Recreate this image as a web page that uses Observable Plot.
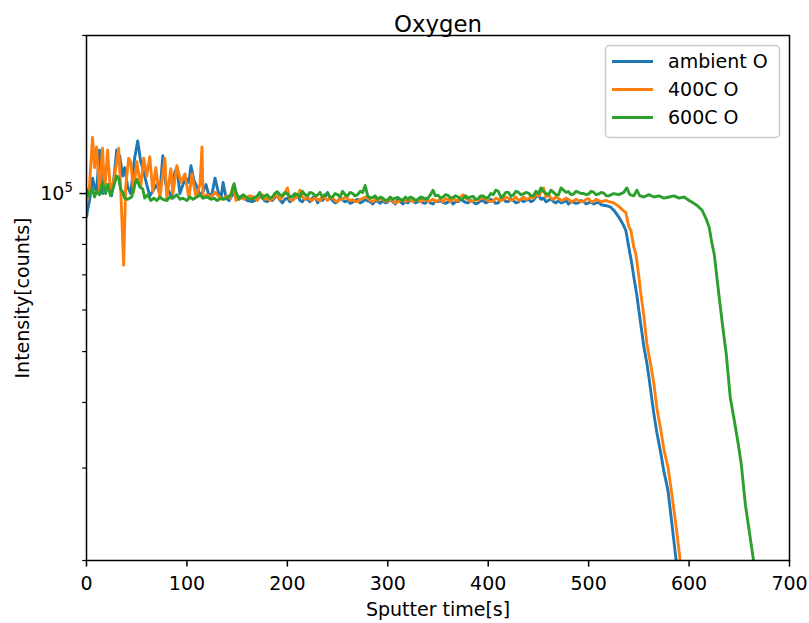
<!DOCTYPE html>
<html>
<head>
<meta charset="utf-8">
<script src="https://cdn.jsdelivr.net/npm/d3@7"></script>
<script src="https://cdn.jsdelivr.net/npm/@observablehq/plot@0.6"></script>
<style>
  html, body { margin: 0; padding: 0; background: white; }
  #chart { position: relative; width: 809px; height: 623px; }
</style>
</head>
<body>
<div id="chart"></div>
<script>
// ---- data ----
const title = "Oxygen";
const xLabel = "Sputter time[s]";
const yLabel = "Intensity[counts]";
const seriesNames = ["ambient O", "400C O", "600C O"];
const seriesColors = ["#1f77b4", "#ff7f0e", "#2ca02c"];
const xTicks = [0, 100, 200, 300, 400, 500, 600, 700];
const yMajorTicks = [1e5];
const yMajorBase = ["10"];
const yMajorExp = ["5"];
const yMinorTicks = [2e4, 3e4, 4e4, 5e4, 6e4, 7e4, 8e4, 9e4, 2e5];

// sampling times of the flat middle section (shared by the three series)
const plateauT = [170,172.5,175,177.5,180,182.5,185,187.5,190,192.5,
195,197.5,200,202.5,205,207.5,210,212.5,215,217.5,
220,222.5,225,227.5,230,232.5,235,237.5,240,242.5,
245,247.5,250,252.5,255,257.5,260,262.5,265,267.5,
270,272.5,275,277.5,280,282.5,285,287.5,290,292.5,
295,297.5,300,302.5,305,307.5,310,312.5,315,317.5,
320,322.5,325,327.5,330,332.5,335,337.5,340,342.5,
345,347.5,350,352.5,355,357.5,360,362.5,365,367.5,
370,372.5,375,377.5,380,382.5,385,387.5,390,392.5,
395,397.5,400,402.5,405,407.5,410,412.5,415,417.5,
420,422.5,425,427.5,430,432.5,435,437.5,440,442.5,
445,447.5,450,452.5,455,457.5,460,462.5,465,467.5,
470,472.5,475,477.5,480,482.5,485,487.5,490,492.5,
495,497.5,500,502.5,505,507.5,510,512.5,515,517.5,520];

// ambient O
const ambientEarlyT = [0,1,3,6,8,10,13,15,16,19,22,25,28,30,33,36,38,41,44,48,51,54,57,60,63,66,70,73,76,79,82,85,88,90,93,96,99,102,104,107,110,113,116,119,122,125,128,131,134,136,139,142,146,150,155,160,165];
const ambientEarlyV = [90000,93000,97000,107000,103000,101000,121000,108000,100000,101000,104000,99000,110000,121000,118000,108000,112000,103000,100000,117000,126000,115000,110000,104000,99000,101000,104000,100000,118000,104000,101000,98000,110000,112000,100000,104000,107000,105000,113000,106000,103000,99000,101000,104000,99000,100000,107000,101000,98000,105000,98000,97000,100000,98000,99000,97000,96500];
const ambientPlateauV = [97500,98800,98500,96800,96500,97800,97000,98200,99000,97200,
96000,97500,98000,96500,97000,98500,99500,97000,96500,98000,
97500,96500,98000,99000,96000,97500,97000,98500,100500,98000,
97000,96000,96500,98000,97200,96500,97000,95800,96300,97000,
97500,96000,96500,97500,96800,96500,95500,97000,96500,95800,
97000,96000,96300,97500,96500,95500,97500,96500,95500,96500,
96000,97200,97000,96000,96500,97500,96000,95800,97000,96000,
95500,96800,96500,97000,96200,95800,96300,97000,95500,96500,
96500,97500,96800,96200,96000,97000,96500,95500,96000,96800,
97000,96000,96500,97500,96800,95800,96000,97500,98000,96500,
96500,97800,97000,96000,96300,97500,96500,97000,97500,96500,
97000,98500,99500,97500,98000,96500,97000,97800,96500,96000,
97000,96000,96300,97000,95500,96500,96200,95800,96000,97000,
96500,95500,96000,96500,95500,96000,96200,95200,95000,94800,94500];
const ambientLateT = [522,526,530,534,537,540,543,545,548,550,553,555,558,560,563,565,568,572,575,579,583,587,589];
const ambientLateV = [94200,92500,90200,87500,85100,79000,73500,69300,64000,59900,54500,51000,47500,44700,40500,38000,35000,31900,29500,27200,23400,20100,18800];

// 400C O
const c400EarlyT = [0,3,6,8,10,13,16,18,21,24,28,32,34,37,39,42,44,47,50,54,57,60,63,66,69,73,78,80,84,86,90,94,98,102,105,109,113,115,116,120,124,128,131,135,140,143,146,149,153,157,162,166];
const c400EarlyV = [96000,103600,128000,112000,122700,101000,122000,100700,121000,100000,108000,122000,103000,73000,103000,116700,115000,100500,115000,103000,116700,108000,117500,101000,112000,98000,116700,98000,111500,100000,113000,105000,109000,98000,109000,98500,104000,122700,98000,99500,98500,100500,99000,97500,99000,98000,103600,97000,98500,97500,99000,98500];
const c400PlateauV = [97000,98500,99500,97500,98000,97000,97500,98800,99000,97500,
98500,100000,102500,97500,97000,98000,98300,101500,98500,97500,
98500,97500,97000,98500,97500,96800,99000,98000,97000,98500,
98000,97000,96500,98000,97500,98500,97800,97000,97300,96500,
96500,97500,97800,98500,98000,97000,96500,97500,97000,97800,
97500,96500,96800,97500,97000,96000,96400,97000,97500,96500,
97000,97800,96500,97000,97500,96500,97000,98000,96500,97000,
97500,96500,97000,97500,96500,97800,97500,96500,98000,97000,
97000,98500,99500,98000,97500,96500,96800,97500,97000,98000,
98000,97500,97000,96500,96800,98000,97500,97000,97300,98500,
98000,97000,97500,98500,97000,97500,98500,97500,97800,98500,
98000,99500,99000,100500,102500,98500,99500,98000,97500,98500,
98000,97000,97300,98000,97500,96500,96800,97500,97000,96500,
96500,97500,97800,96500,96500,97500,97000,96500,96800,97000,96500];
const c400LateT = [525,530,534,537,540,542,545,547,550,552,555,558,562,565,568,572,575,579,582,585,588,591,593];
const c400LateV = [96000,94500,93000,92000,86500,85100,79000,76800,69500,64400,58500,51700,47000,43400,39000,35300,32500,30100,27500,24900,22500,20100,18800];

// 600C O
const c600EarlyT = [0,2,4,6,8,10,13,16,19,21,24,27,30,32,34,36,38,41,45,48,50,53,56,58,61,64,67,70,73,76,80,83,86,90,93,96,100,103,106,110,113,116,120,124,127,130,134,137,141,144,147,149,152,156,160,165];
const c600EarlyV = [102000,99000,101000,102000,98500,101000,99500,105000,100000,104000,99000,103000,108000,107000,102000,100700,98000,97500,98500,104000,106400,103000,102000,98000,99500,97000,98000,97000,98500,97500,97000,98500,98000,99500,97500,98000,97000,98500,97500,98500,99500,98000,98500,97500,98000,97000,98000,97500,98500,99500,104400,100500,97500,99500,98000,97500];
const c600PlateauV = [99000,100500,98000,99000,99500,98000,98500,100000,100800,99500,
99000,100500,99800,98500,98800,100000,99500,98500,101000,99500,
99000,100500,100200,99000,99300,100500,98500,99500,100000,98500,
98500,100000,99500,98500,101000,99500,99000,100500,100000,99000,
99500,101000,100500,103600,99000,98000,98300,99000,97500,98500,
98000,97000,97300,98500,97500,98000,98300,97500,97000,98500,
97500,98500,98000,97000,97500,98500,98200,97500,98000,99500,
101500,99000,99300,98000,98500,99500,99200,98000,98300,99000,
98500,97500,97800,99000,98000,98500,98800,97500,97800,99000,
99000,98000,98300,100000,99500,101500,101000,98500,99000,100500,
100500,99000,99300,101000,100600,99500,99800,100500,100200,99000,
99000,101000,100000,102500,101000,100000,99500,101500,100500,99500,
99500,102500,101500,100500,100800,99500,99800,101000,100500,100000,
100000,99500,99800,101000,100600,99500,99800,100500,100200,99000,99000];
const c600LateT = [525,530,535,538,541,545,548,551,555,560,565,570,575,580,585,590,595,600,604,608,613,617,620,623,625,628,630,634,637,641,645,649,652,656,660,664,666];
const c600LateV = [100000,99500,100500,102500,99500,99000,101500,99000,98500,99500,98500,99000,98000,98500,99000,98000,98500,97000,96000,94900,92900,89500,86300,80000,76800,68500,63400,54800,49500,40900,37000,33300,30500,25600,22700,20100,19000];

// ---- build tables ----
const toRows = (T, V) => T.map((t, i) => ({t, v: V[i]}));
const series = [
  [...toRows(ambientEarlyT, ambientEarlyV), ...toRows(plateauT, ambientPlateauV), ...toRows(ambientLateT, ambientLateV)],
  [...toRows(c400EarlyT, c400EarlyV), ...toRows(plateauT, c400PlateauV), ...toRows(c400LateT, c400LateV)],
  [...toRows(c600EarlyT, c600EarlyV), ...toRows(plateauT, c600PlateauV), ...toRows(c600LateT, c600LateV)]
];

const FONT = "DejaVu Sans, sans-serif";
const W = 809, H = 623;
const mT = 35, mB = 63, mL = 86, mR = 20;

const chart = Plot.plot({
  width: W, height: H,
  marginTop: mT, marginBottom: mB, marginLeft: mL, marginRight: mR,
  style: {fontFamily: FONT, fontSize: "19px", color: "black", background: "white", overflow: "visible"},
  x: {domain: [0, 700]},
  y: {type: "log", domain: [2e4, 2e5]},
  marks: [
    ...series.map((rows, i) => Plot.line(rows, {x: "t", y: "v", stroke: seriesColors[i], strokeWidth: 2.9, clip: true, strokeLinejoin: "round", strokeLinecap: "butt"})),
    Plot.frame({stroke: "black", strokeWidth: 1.5}),
    Plot.axisX({ticks: xTicks, tickSize: 6.6, tickPadding: 9, tickFormat: d => String(d), label: null, strokeWidth: 1.5, fontSize: 19}),
    Plot.axisY({ticks: yMajorTicks, tickSize: 6.6, tickPadding: 7, tickFormat: d => "MAJ" + yMajorTicks.indexOf(d), label: null, strokeWidth: 1.5, fontSize: 19}),
    Plot.axisY({ticks: yMinorTicks, tickSize: 3.8, tickFormat: () => "", label: null, strokeWidth: 1.2}),
    Plot.text([title], {frameAnchor: "top", textAnchor: "middle", lineAnchor: "bottom", dy: -3.5, fontSize: 22.8}),
    Plot.text([xLabel], {frameAnchor: "bottom", textAnchor: "middle", lineAnchor: "top", dy: 41.5, fontSize: 19}),
    Plot.text([yLabel], {frameAnchor: "left", textAnchor: "middle", lineAnchor: "middle", rotate: -90, dx: -63.5, fontSize: 19})
  ]
});

document.getElementById("chart").appendChild(chart);

const svg = d3.select(chart);

// matplotlib-style exponent labels: "10" with a raised smaller "5"
svg.selectAll("text").each(function() {
  const t = d3.select(this);
  const s = t.text();
  if (s.startsWith("MAJ")) {
    const i = +s.slice(3);
    t.text(null).attr("font-size", 19);
    t.append("tspan").text(yMajorBase[i]);
    t.append("tspan").attr("font-size", 13.3).attr("dy", "-0.55em").text(yMajorExp[i]);
  }
});

// ---- legend (upper right, inside axes) ----
const lg = svg.append("g").attr("font-family", FONT).attr("font-size", 19).attr("text-anchor", "start");
lg.append("rect").attr("x", 605.5).attr("y", 45.5).attr("width", 174).attr("height", 92)
  .attr("rx", 4).attr("fill", "white").attr("fill-opacity", 0.8).attr("stroke", "#cccccc").attr("stroke-width", 1.5);
const rowsY = [61.5, 89.5, 117.5];
seriesNames.forEach((name, i) => {
  lg.append("line").attr("x1", 612).attr("x2", 653).attr("y1", rowsY[i]).attr("y2", rowsY[i])
    .attr("stroke", seriesColors[i]).attr("stroke-width", 2.9);
  lg.append("text").attr("x", 668).attr("y", rowsY[i]).attr("dy", "0.35em").attr("fill", "black")
    .attr("text-anchor", "start").text(name);
});
</script>
</body>
</html>
